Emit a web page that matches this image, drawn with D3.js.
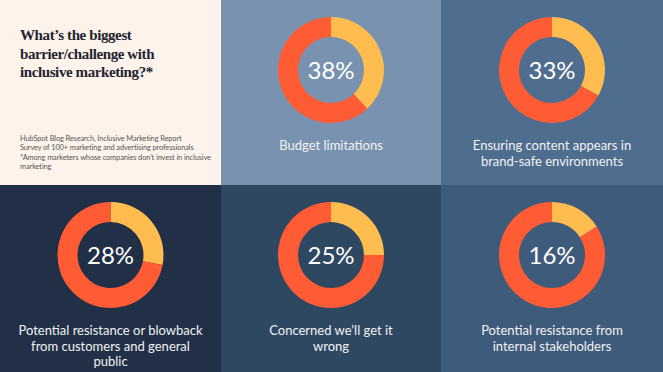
<!DOCTYPE html>
<html>

<head>
    <title>Inclusive Marketing Barriers</title>
    <script src="https://d3js.org/d3.v7.min.js"></script>
    <style>
        body {
            margin: 0;
            font-family: Lato, "Noto Sans", sans-serif;
        }

        .pct {
            font-size: 24px;
            fill: #fff;
        }

        .label {
            font-size: 13px;
            fill: #f2f2f2;
        }
    </style>
</head>

<body>
    <div id="chart"></div>

    <script>
        const categories = [
            "Budget limitations",
            "Ensuring content appears in brand-safe environments",
            "Potential resistance or blowback from customers and general public",
            "Concerned we\u2019ll get it wrong",
            "Potential resistance from internal stakeholders"
        ];
        const values = [38, 33, 28, 25, 16];
        const labelLines = [
            ["Budget limitations"],
            ["Ensuring content appears in", "brand-safe environments"],
            ["Potential resistance or blowback", "from customers and general", "public"],
            ["Concerned we\u2019ll get it", "wrong"],
            ["Potential resistance from", "internal stakeholders"]
        ];
        const titleLines = ["What\u2019s the biggest", "barrier/challenge with", "inclusive marketing?*"];
        const sourceLines = [
            "HubSpot Blog Research, Inclusive Marketing Report",
            "Survey of 100+ marketing and advertising professionals",
            "*Among marketers whose companies don\u2019t invest in inclusive",
            "marketing"
        ];

        const width = 663, height = 372;
        const colX = [0, 221, 441, 663];
        const rowY = [0, 185, 372];
        const panelColors = ["#7892b0", "#4f6d8f", "#213047", "#2e4862", "#3f5b7b"];

        const svg = d3.select("#chart")
            .append("svg")
            .attr("width", width)
            .attr("height", height);

        // intro panel
        svg.append("rect")
            .attr("x", 0).attr("y", 0)
            .attr("width", colX[1]).attr("height", rowY[1])
            .attr("fill", "#fdf3ea");

        svg.append("g").selectAll("text")
            .data(titleLines)
            .join("text")
            .attr("x", 20)
            .attr("y", (d, i) => 40 + i * 18.5)
            .attr("font-family", "'Liberation Serif', serif")
            .attr("font-weight", "bold")
            .attr("font-size", 15)
            .attr("letter-spacing", -0.4)
            .attr("fill", "#1f2430")
            .text(d => d);

        svg.append("g").selectAll("text")
            .data(sourceLines)
            .join("text")
            .attr("x", 20)
            .attr("y", (d, i) => 141 + i * 9.3)
            .attr("font-size", 7.4)
            .attr("letter-spacing", -0.1)
            .attr("fill", "#555")
            .text(d => d);

        const arc = d3.arc().innerRadius(33).outerRadius(53);
        const pie = d3.pie().sort(null);

        const panels = values.map((v, i) => {
            const cell = i + 1;
            const c = cell % 3, r = Math.floor(cell / 3);
            return {
                value: v,
                lines: labelLines[i],
                name: categories[i],
                x0: colX[c], x1: colX[c + 1],
                y0: rowY[r], y1: rowY[r + 1],
                color: panelColors[i]
            };
        });

        const g = svg.selectAll("g.panel")
            .data(panels)
            .join("g")
            .attr("class", "panel");

        g.append("rect")
            .attr("x", d => d.x0)
            .attr("y", d => d.y0)
            .attr("width", d => d.x1 - d.x0)
            .attr("height", d => d.y1 - d.y0)
            .attr("fill", d => d.color);

        const donut = g.append("g")
            .attr("transform", d => `translate(${(d.x0 + d.x1) / 2},${d.y0 + 70})`);

        donut.selectAll("path")
            .data(d => pie([d.value, 100 - d.value]))
            .join("path")
            .attr("d", arc)
            .attr("fill", (d, i) => i === 0 ? "#ffbc4f" : "#ff5c35");

        donut.append("text")
            .attr("class", "pct")
            .attr("text-anchor", "middle")
            .attr("dy", "0.36em")
            .text(d => d.value + "%");

        g.append("g").selectAll("text")
            .data(d => d.lines.map((t, i) => ({ t, i, d })))
            .join("text")
            .attr("class", "label")
            .attr("text-anchor", "middle")
            .attr("x", o => (o.d.x0 + o.d.x1) / 2)
            .attr("y", o => o.d.y0 + 150 + o.i * 15.5)
            .text(o => o.t);
    </script>
</body>

</html>
